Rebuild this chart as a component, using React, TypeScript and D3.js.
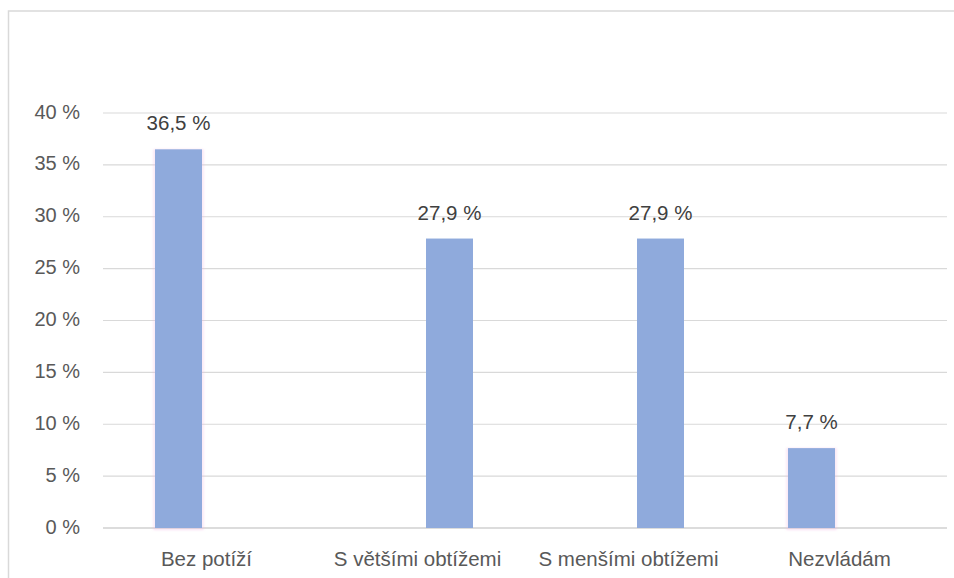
import React from "react";
import * as d3 from "d3";

// Survey answers, two colour-coded series sharing the same categories
const categories = ["Bez potíží", "S většími obtížemi", "S menšími obtížemi", "Nezvládám"];
const seriesNames = ["A", "B"];
const seriesA: (number | null)[] = [36.5, null, null, 7.7];
const seriesB: (number | null)[] = [null, 27.9, 27.9, null];
const yTicks = [0, 5, 10, 15, 20, 25, 30, 35, 40];

const W = 954;
const H = 578;
const plot = { left: 103, right: 947, top: 113, bottom: 528 };
const FONT = "'Liberation Sans', Arial, sans-serif";
const BAR = "#8faadc";

const fmt = (v: number) => v.toFixed(1).replace(".", ",") + " %";

export default function App() {
  const x = d3.scaleBand<string>().domain(categories).range([plot.left, plot.right]).padding(0);
  const inner = d3
    .scaleBand<string>()
    .domain(seriesNames)
    .range([0, x.bandwidth()])
    .paddingInner(0.2167)
    .paddingOuter(0.8667);
  const y = d3.scaleLinear().domain([0, 40]).range([plot.bottom, plot.top]);

  const series = [
    { name: "A", values: seriesA, glow: true },
    { name: "B", values: seriesB, glow: false },
  ];

  return (
    <svg
      width={W}
      height={H}
      style={{ position: "absolute", left: 0, top: 0, background: "#fff" }}
      fontFamily={FONT}
    >
      <defs>
        <filter id="soft-glow" x="-20%" y="-5%" width="140%" height="110%">
          <feGaussianBlur stdDeviation="1.2" />
        </filter>
      </defs>

      {/* chart frame */}
      <rect x={8.5} y={11} width={W + 20} height={H + 20} fill="#fff" stroke="#d9d9d9" strokeWidth={1.5} />

      {/* gridlines and y tick labels */}
      {yTicks.map((t) => (
        <g key={t}>
          <line
            x1={plot.left}
            x2={plot.right}
            y1={y(t)}
            y2={y(t)}
            stroke={t === 0 ? "#d0d0d0" : "#d9d9d9"}
            strokeWidth={t === 0 ? 1.5 : 1.2}
          />
          <text
            x={80}
            y={y(t) - 1.5}
            textAnchor="end"
            dominantBaseline="central"
            fontSize={20}
            fill="#595959"
          >
            {t} %
          </text>
        </g>
      ))}

      {/* bars */}
      {series.map((s) =>
        s.values.map((v, i) => {
          if (v == null) return null;
          const bx = (x(categories[i]) as number) + (inner(s.name) as number);
          const bw = inner.bandwidth();
          const by = y(v);
          return (
            <g key={s.name + i}>
              {s.glow && (
                <rect
                  x={bx - 0.5}
                  y={by + 1}
                  width={bw + 1}
                  height={y(0) - by}
                  fill="none"
                  stroke="#f2b8e2"
                  strokeOpacity={0.45}
                  strokeWidth={2}
                  filter="url(#soft-glow)"
                />
              )}
              <rect x={bx} y={by} width={bw} height={y(0) - by} fill={BAR} />
              <text
                x={bx + bw / 2}
                y={by - 19}
                textAnchor="middle"
                fontSize={20.5}
                fill="#404040"
              >
                {fmt(v)}
              </text>
            </g>
          );
        })
      )}

      {/* category labels */}
      {categories.map((c) => (
        <text
          key={c}
          x={(x(c) as number) + x.bandwidth() / 2 - 2}
          y={566}
          textAnchor="middle"
          fontSize={20.5}
          fill="#595959"
        >
          {c}
        </text>
      ))}
    </svg>
  );
}
